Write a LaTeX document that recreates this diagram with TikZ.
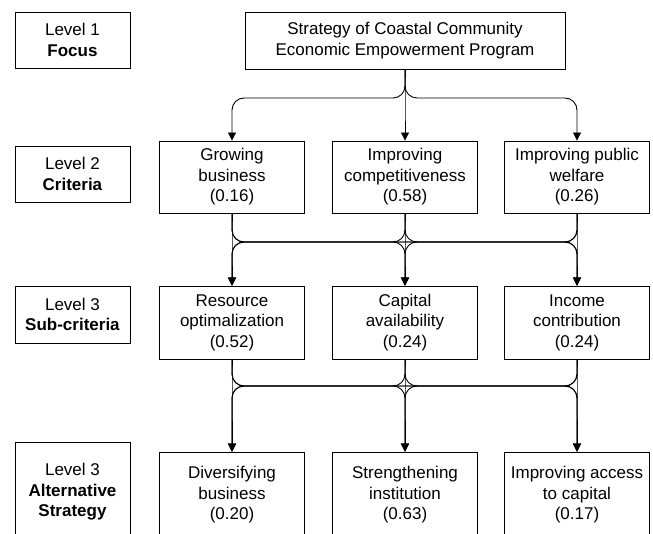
\documentclass[tikz,border=0pt]{standalone}
\usepackage{fontspec}
\setmainfont{Liberation Sans}
\usetikzlibrary{arrows.meta}
\begin{document}
\begin{tikzpicture}[x=1pt,y=-1pt,
  box/.style={draw=black,line width=0.9pt,align=center,inner sep=0pt,
    font=\fontsize{17}{20.5}\selectfont},
  lvl/.style={box,minimum width=115pt},
  mid/.style={box,minimum width=145pt},
  conn/.style={line width=0.9pt,rounded corners=12pt},
  arr/.style={conn,-{Triangle[length=8pt,width=8pt]}}]
\useasboundingbox (0,0) rectangle (653,534);
\clip (0,0) rectangle (653,534);
% left level labels
\node[lvl,minimum height=56pt] (l1) at (72.5,40) {Level 1\\\textbf{Focus}};
\node[lvl,minimum height=56pt] (l2) at (72.5,174) {Level 2\\\textbf{Criteria}};
\node[lvl,minimum height=57pt] (l3) at (72.5,314.5) {Level 3\\\textbf{Sub-criteria}};
\node[lvl,minimum height=100pt] (l4) at (72.5,492) {Level 3\\\textbf{Alternative}\\\textbf{Strategy}};
% focus
\node[box,minimum width=320pt,minimum height=57pt] (goal) at (405,40.5)
  {Strategy of Coastal Community\\Economic Empowerment Program};
% criteria
\node[mid,minimum height=72pt] (c1) at (232,177) {Growing\\business\\(0.16)};
\node[mid,minimum height=72pt] (c2) at (405,177) {Improving\\competitiveness\\(0.58)};
\node[mid,minimum height=72pt] (c3) at (577,177) {Improving public\\welfare\\(0.26)};
% sub-criteria
\node[mid,minimum height=73pt] (s1) at (232,322.5) {Resource\\optimalization\\(0.52)};
\node[mid,minimum height=73pt] (s2) at (405,322.5) {Capital\\availability\\(0.24)};
\node[mid,minimum height=73pt] (s3) at (577,322.5) {Income\\contribution\\(0.24)};
% alternatives
\node[mid,minimum height=86pt] (a1) at (232,495) {Diversifying\\business\\(0.20)};
\node[mid,minimum height=86pt] (a2) at (405,495) {Strengthening\\institution\\(0.63)};
\node[mid,minimum height=86pt] (a3) at (577,495) {Improving access\\to capital\\(0.17)};
% bus levels
\coordinate (bus1) at (0,98);
\coordinate (bus2) at (0,242);
\coordinate (bus3) at (0,386);
% goal -> criteria
\foreach \t in {c1,c2,c3}{
  \draw[arr] (goal.south) -- (goal.south |- bus1) -- (\t.north |- bus1) -- (\t.north);
}
% criteria -> sub-criteria
\foreach \f in {c1,c2,c3}{
  \foreach \t in {s1,s2,s3}{
    \draw[arr] (\f.south) -- (\f.south |- bus2) -- (\t.north |- bus2) -- (\t.north);
  }
}
% sub-criteria -> alternatives
\foreach \f in {s1,s2,s3}{
  \foreach \t in {a1,a2,a3}{
    \draw[arr] (\f.south) -- (\f.south |- bus3) -- (\t.north |- bus3) -- (\t.north);
  }
}
\end{tikzpicture}
\end{document}
